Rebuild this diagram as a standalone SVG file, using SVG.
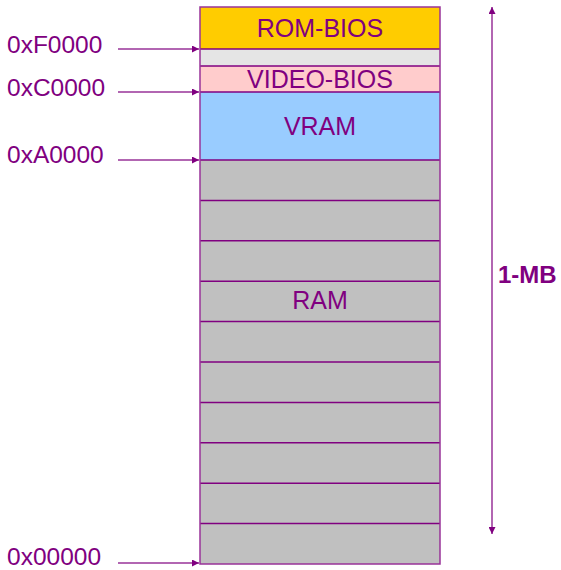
<svg xmlns="http://www.w3.org/2000/svg" width="561" height="570" viewBox="0 0 561 570">
  <style>
    .lbl { font-family: "Liberation Sans", Arial, sans-serif; font-size: 25px; fill: #800080; }
    .addr { font-family: "Liberation Sans", Arial, sans-serif; font-size: 24.5px; fill: #800080; }
    .size { font-family: "Liberation Sans", Arial, sans-serif; font-size: 24px; font-weight: bold; fill: #800080; }
    .sep { stroke: #800080; stroke-width: 1.5; }
    .conn { stroke: #993399; stroke-width: 1.5; fill: none; }
  </style>
  <defs>
    <marker id="tip" viewBox="0 0 10 10" refX="10" refY="5" markerWidth="7" markerHeight="7" markerUnits="userSpaceOnUse" orient="auto-start-reverse">
      <path d="M0,0 L10,5 L0,10 z" fill="#800080"/>
    </marker>
  </defs>

  <!-- memory map column -->
  <g id="rom-bios">
    <rect x="200" y="7" width="240" height="42" fill="#FFCC00"/>
    <text class="lbl" x="320" y="37" text-anchor="middle">ROM-BIOS</text>
  </g>
  <g id="gap">
    <rect x="200" y="49" width="240" height="17" fill="#E5E5E5"/>
  </g>
  <g id="video-bios">
    <rect x="200" y="66" width="240" height="26" fill="#FFCCCC"/>
    <text class="lbl" x="320" y="88" text-anchor="middle">VIDEO-BIOS</text>
  </g>
  <g id="vram">
    <rect x="200" y="92" width="240" height="68" fill="#99CCFF"/>
    <text class="lbl" x="320" y="135" text-anchor="middle">VRAM</text>
  </g>
  <g id="ram">
    <rect x="200" y="160" width="240" height="404" fill="#C0C0C0"/>
    <text class="lbl" x="320" y="309" text-anchor="middle">RAM</text>
  </g>

  <!-- region separators and outline -->
  <g id="separators">
    <line class="sep" x1="200" y1="49" x2="440" y2="49"/>
    <line class="sep" x1="200" y1="66" x2="440" y2="66"/>
    <line class="sep" x1="200" y1="92" x2="440" y2="92"/>
    <line class="sep" x1="200" y1="160" x2="440" y2="160" stroke-width="2"/>
    <line class="sep" x1="200" y1="200.4" x2="440" y2="200.4"/>
    <line class="sep" x1="200" y1="240.8" x2="440" y2="240.8"/>
    <line class="sep" x1="200" y1="281.2" x2="440" y2="281.2" stroke-width="2"/>
    <line class="sep" x1="200" y1="321.6" x2="440" y2="321.6"/>
    <line class="sep" x1="200" y1="362" x2="440" y2="362"/>
    <line class="sep" x1="200" y1="402.4" x2="440" y2="402.4"/>
    <line class="sep" x1="200" y1="442.8" x2="440" y2="442.8"/>
    <line class="sep" x1="200" y1="483.2" x2="440" y2="483.2"/>
    <line class="sep" x1="200" y1="523.6" x2="440" y2="523.6"/>
    <rect x="200" y="7" width="240" height="557" fill="none" stroke="#993399" stroke-width="1.5"/>
  </g>

  <!-- address labels -->
  <g id="addr-f0000"><text class="addr" x="7" y="53">0xF0000</text></g>
  <g id="addr-c0000"><text class="addr" x="7" y="96">0xC0000</text></g>
  <g id="addr-a0000"><text class="addr" x="7" y="163">0xA0000</text></g>
  <g id="addr-00000"><text class="addr" x="7" y="565">0x00000</text></g>
  <g id="size-label"><text class="size" x="498" y="283">1-MB</text></g>

  <!-- connectors -->
  <g id="connectors">
    <line class="conn" x1="118" y1="49" x2="199" y2="49" marker-end="url(#tip)"/>
    <line class="conn" x1="118" y1="92" x2="199" y2="92" marker-end="url(#tip)"/>
    <line class="conn" x1="118" y1="160" x2="199" y2="160" marker-end="url(#tip)"/>
    <line class="conn" x1="118" y1="563" x2="199" y2="563" marker-end="url(#tip)"/>
    <line class="conn" x1="492" y1="7" x2="492" y2="534" marker-start="url(#tip)" marker-end="url(#tip)"/>
  </g>
</svg>
